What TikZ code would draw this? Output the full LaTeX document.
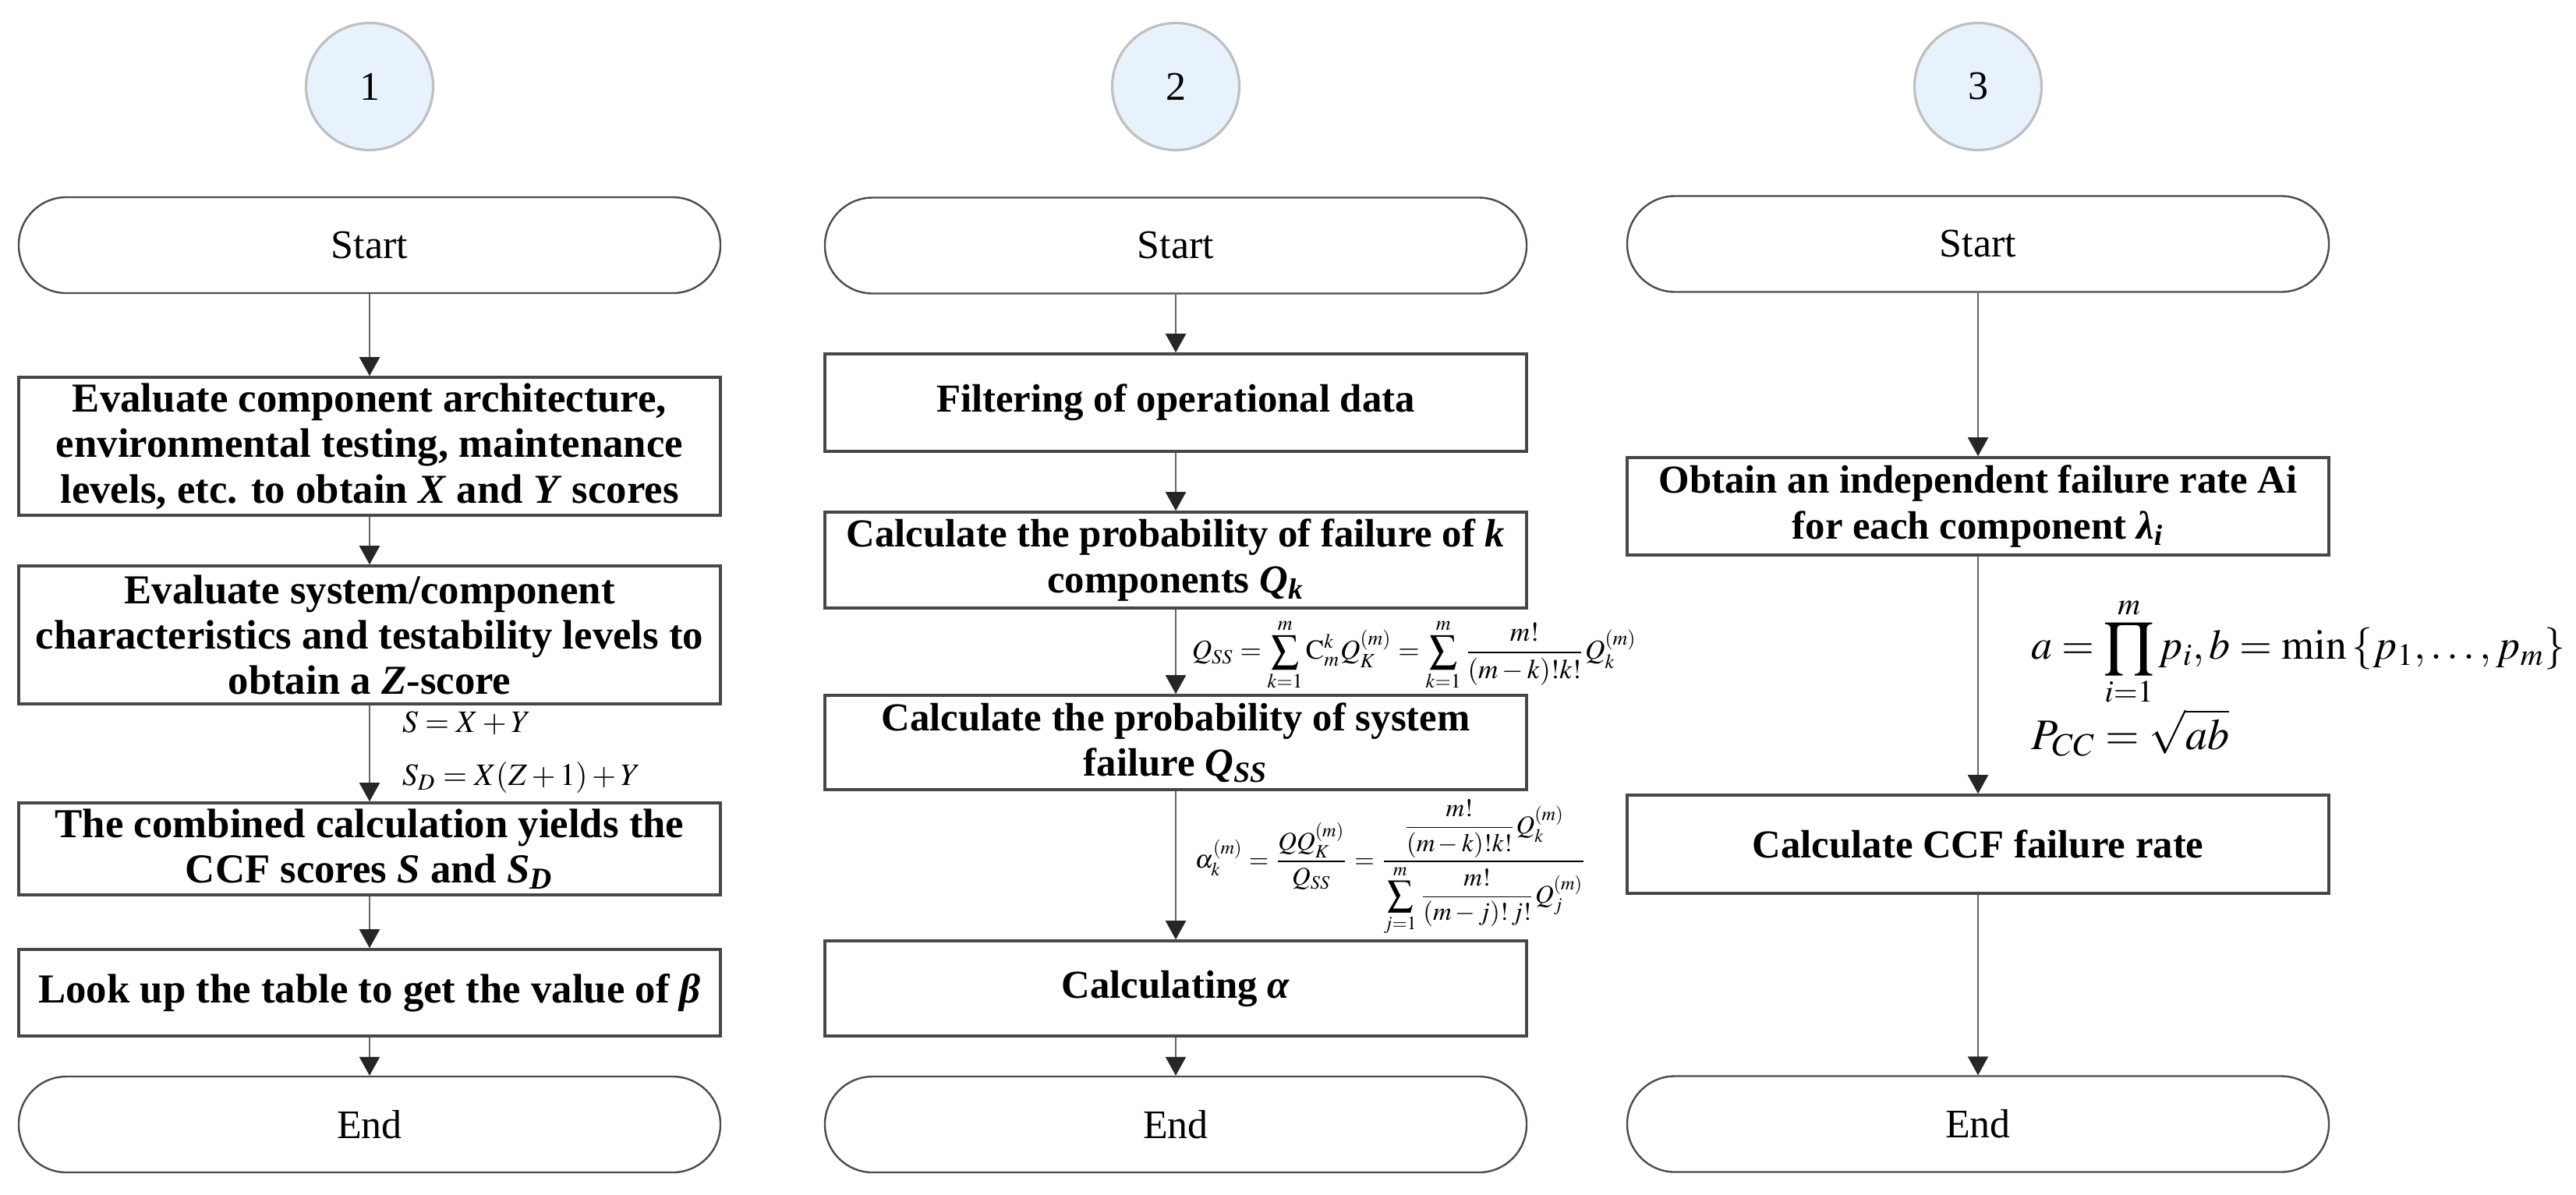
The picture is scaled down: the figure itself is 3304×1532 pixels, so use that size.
\documentclass[tikz,border=0pt]{standalone}
\usepackage{amsmath}
\usepackage{mathptmx}
\usepackage[no-math]{fontspec}
\setmainfont{Liberation Serif}
\usetikzlibrary{arrows.meta}
\definecolor{circfill}{HTML}{E8F2FC}
\begin{document}
\begin{tikzpicture}[x=0.25pt,y=-0.25pt,
  term/.style={draw=black!70, line width=0.6pt, rounded corners=15.3pt, minimum width=225pt, minimum height=30.75pt, inner sep=0pt, font=\fontsize{13}{15}\selectfont},
  box/.style={draw=black!72, line width=0.9pt, minimum width=225pt, inner sep=0pt, align=center, font=\fontsize{13.2}{14.6}\selectfont\bfseries},
  boxs/.style={box, font=\fontsize{12.7}{14.6}\selectfont\bfseries},
  num/.style={circle, draw=black!25, fill=circfill, line width=0.8pt, minimum size=40.75pt, inner sep=0pt, font=\fontsize{13}{15}\selectfont},
  arr/.style={draw=black!60, line width=0.55pt, -{Triangle[width=6.5pt,length=6pt,color=black!85]}},
  frm/.style={anchor=west, inner sep=0pt}
]
\fill[white] (0,0) rectangle (3304,1532);
\path[use as bounding box] (0,0) rectangle (3304,1532);

% ---------- column 1 ----------
\node[num] (n1) at (474,111) {1};
\node[term] (s1) at (474,314.5) {Start};
\node[box, minimum height=44.25pt] (b11) at (474,572.5) {Evaluate component architecture,\\environmental testing, maintenance\\levels, etc. to obtain \textit{X} and \textit{Y} scores};
\node[box, minimum height=44.25pt] (b12) at (474,814.5) {Evaluate system/component\\characteristics and testability levels to\\obtain a \textit{Z}-score};
\node[box, minimum height=29.5pt] (b13) at (474,1089) {The combined calculation yields the\\CCF scores \textit{S} and \textit{S}\textsubscript{\textit{D}}};
\node[box, minimum height=27.75pt] (b14) at (474,1273.5) {Look up the table to get the value of \textit{β}};
\node[term] (e1) at (474,1442.5) {End};
\node[frm, font=\fontsize{10}{12}\selectfont] (f11) at (515,928) {$S = X + Y$};
\node[frm, font=\fontsize{10}{12}\selectfont] (f12) at (515,997) {$S_D = X(Z+1) + Y$};
\draw[arr] (s1) -- (b11);
\draw[arr] (b11) -- (b12);
\draw[arr] (b12) -- (b13);
\draw[arr] (b13) -- (b14);
\draw[arr] (b14) -- (e1);

% ---------- column 2 ----------
\node[num] (n2) at (1508,111) {2};
\node[term] (s2) at (1508,315) {Start};
\node[boxs, minimum height=31.25pt] (b21) at (1508,516.5) {Filtering of operational data};
\node[boxs, minimum height=30.75pt] (b22) at (1508,718.5) {Calculate the probability of failure of \textit{k}\\components \textit{Q}\textsubscript{\textit{k}}};
\node[boxs, minimum height=30.25pt] (b23) at (1508,952.5) {Calculate the probability of system\\failure \textit{Q}\textsubscript{\textit{SS}}};
\node[boxs, minimum height=30.5pt] (b24) at (1508,1268) {Calculating \textit{α}};
\node[term] (e2) at (1508,1442.5) {End};
\node[frm, font=\fontsize{8.8}{10}\selectfont] (f21) at (1528,840) {$\displaystyle Q_{SS} = \sum_{k=1}^{m} \mathrm{C}_m^k Q_K^{(m)} = \sum_{k=1}^{m} \frac{m!}{(m-k)!k!} Q_k^{(m)}$};
\node[frm, font=\fontsize{8.2}{10}\selectfont] (f22) at (1532,1113) {$\displaystyle \alpha_k^{(m)} = \frac{QQ_K^{(m)}}{Q_{SS}} = \frac{\dfrac{m!}{(m-k)!k!}Q_k^{(m)}}{\displaystyle\sum_{j=1}^{m}\frac{m!}{(m-j)!\,j!}Q_j^{(m)}}$};
\draw[arr] (s2) -- (b21);
\draw[arr] (b21) -- (b22);
\draw[arr] (b22) -- (b23);
\draw[arr] (b23) -- (b24);
\draw[arr] (b24) -- (e2);

% ---------- column 3 ----------
\node[num] (n3) at (2537,111) {3};
\node[term] (s3) at (2537,313) {Start};
\node[boxs, minimum height=31.25pt] (b31) at (2537,649.5) {Obtain an independent failure rate Ai\\for each component \textit{λ}\textsubscript{\textit{i}}};
\node[boxs, minimum height=31.5pt] (b32) at (2537,1083) {Calculate CCF failure rate};
\node[term] (e3) at (2537,1442) {End};
\node[frm, font=\fontsize{13.5}{16}\selectfont] (f31) at (2605,836) {$\displaystyle a=\prod_{i=1}^{m} p_i, b=\min\left\{p_1,\ldots,p_m\right\}$};
\node[frm, font=\fontsize{14}{16}\selectfont] (f32) at (2605,940) {$P_{CC}=\sqrt{ab}$};
\draw[arr] (s3) -- (b31);
\draw[arr] (b31) -- (b32);
\draw[arr] (b32) -- (e3);
\end{tikzpicture}
\end{document}
